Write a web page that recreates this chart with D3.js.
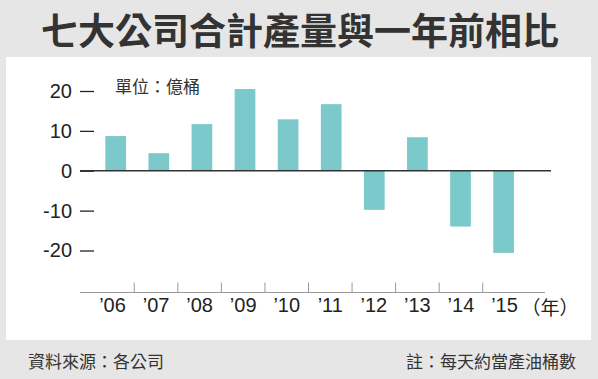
<!DOCTYPE html>
<html>
<head>
<meta charset="utf-8">
<script src="https://cdn.jsdelivr.net/npm/d3@7"></script>
<style>
  html, body { margin: 0; padding: 0; background: #e6e6e6; }
  svg { display: block; }
</style>
</head>
<body>
<svg id="chart"></svg>
<script>
"use strict";

// ==========================
// data
// ==========================
var years = ["2006", "2007", "2008", "2009", "2010", "2011", "2012", "2013", "2014", "2015"],
    yearLabels = ["\u201906", "\u201907", "\u201908", "\u201909", "\u201910", "\u201911", "\u201912", "\u201913", "\u201914", "\u201915"],
    values = [8.7, 4.4, 11.7, 20.5, 12.9, 16.7, -9.8, 8.4, -14.0, -20.6],
    yTicks = [20, 10, 0, -10, -20];

var titleText = "七大公司合計產量與一年前相比",
    unitText = "單位：億桶",
    sourceText = "資料來源：各公司",
    noteText = "註：每天約當產油桶數",
    yearUnit = "（年）";

// ==========================
// layout
// ==========================
var width = 598,
    height = 379,
    cjk = "'Noto Sans CJK TC', 'Noto Sans CJK SC', sans-serif",
    latin = "'Liberation Sans', Arial, sans-serif";

var svg = d3.select("#chart").attr("width", width).attr("height", height);

svg.append("rect").attr("width", width).attr("height", height).attr("fill", "#e6e6e6");
svg.append("rect").attr("x", 6).attr("y", 57).attr("width", 585).attr("height", 283).attr("fill", "#fff");

svg.append("text")
  .attr("x", width / 2 + 1).attr("y", 29)
  .attr("text-anchor", "middle").attr("dominant-baseline", "central")
  .style("font-family", cjk).style("font-weight", 700).style("font-size", "37px")
  .attr("fill", "#333")
  .text(titleText);

// ==========================
// scales
// ==========================
var x = d3.scaleBand().domain(years).range([94.15, 525.15]).paddingInner(0.52).paddingOuter(0.26),
    xa = d3.scaleBand().domain(yearLabels).range([90.7, 526.3]),
    y = d3.scaleLinear().domain([-20, 20]).range([250.5, 91]);

// y axis: short dashes to the left of the plot
var yAxis = svg.append("g").attr("transform", "translate(94,0)")
  .call(d3.axisLeft(y).tickValues(yTicks).tickSize(14).tickPadding(8).tickFormat(function (d) { return String(d); }));
yAxis.select(".domain").remove();
yAxis.selectAll(".tick line").attr("stroke", "#222").attr("stroke-width", 1.3);
yAxis.selectAll(".tick text")
  .style("font-family", latin).style("font-size", "20px").attr("fill", "#222");

svg.append("text")
  .attr("x", 115).attr("y", 85)
  .attr("dominant-baseline", "central")
  .style("font-family", cjk).style("font-size", "17px")
  .attr("fill", "#333")
  .text(unitText);

// bars
svg.append("g").selectAll("rect").data(values).enter().append("rect")
  .attr("x", function (d, i) { return x(years[i]); })
  .attr("width", x.bandwidth())
  .attr("y", function (d) { return y(Math.max(0, d)); })
  .attr("height", function (d) { return Math.abs(y(d) - y(0)); })
  .attr("fill", "#7bc9ca");

// zero line
svg.append("line")
  .attr("x1", 80).attr("x2", 551)
  .attr("y1", y(0)).attr("y2", y(0))
  .attr("stroke", "#333").attr("stroke-width", 1.6);

// ==========================
// bottom axis
// ==========================
var axisY = 292.5;
var xAxis = svg.append("g").attr("transform", "translate(0," + axisY + ")")
  .call(d3.axisBottom(xa).tickSize(0).tickPadding(5));
xAxis.select(".domain").remove();
xAxis.selectAll(".tick text")
  .style("font-family", latin).style("font-size", "20px").attr("fill", "#222");

svg.append("line")
  .attr("x1", 80).attr("x2", 545)
  .attr("y1", axisY).attr("y2", axisY)
  .attr("stroke", "#999").attr("stroke-width", 1.2);

svg.append("g").selectAll("line").data(yearLabels.slice(1)).enter().append("line")
  .attr("x1", function (d) { return xa(d); })
  .attr("x2", function (d) { return xa(d); })
  .attr("y1", axisY - 10).attr("y2", axisY)
  .attr("stroke", "#999").attr("stroke-width", 1);

svg.append("text")
  .attr("x", 550).attr("y", 306.5)
  .attr("text-anchor", "middle").attr("dominant-baseline", "central")
  .style("font-family", cjk).style("font-size", "19px")
  .attr("fill", "#222")
  .text(yearUnit);

// ==========================
// footer
// ==========================
svg.append("text")
  .attr("x", 28).attr("y", 360)
  .attr("dominant-baseline", "central")
  .style("font-family", cjk).style("font-size", "17px")
  .attr("fill", "#333")
  .text(sourceText);

svg.append("text")
  .attr("x", 576).attr("y", 360)
  .attr("text-anchor", "end").attr("dominant-baseline", "central")
  .style("font-family", cjk).style("font-size", "17px")
  .attr("fill", "#333")
  .text(noteText);
</script>
</body>
</html>
